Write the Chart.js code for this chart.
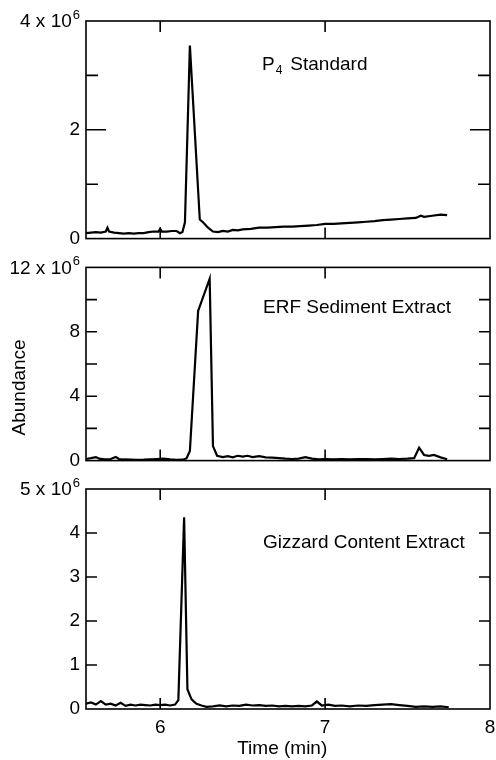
<!DOCTYPE html>
<html>
<head>
<meta charset="utf-8">
<script src="https://cdn.jsdelivr.net/npm/chart.js@4.4.1/dist/chart.umd.min.js"></script>
<style>
  html, body { margin: 0; padding: 0; background: #fff; }
  #wrap { position: relative; width: 496px; height: 760px; }
  .panel { position: absolute; left: 0; width: 496px; }
</style>
</head>
<body>
<div id="wrap">
  <div class="panel" style="top:0px;height:256px"><canvas id="c1" width="496" height="256"></canvas></div>
  <div class="panel" style="top:250px;height:228px"><canvas id="c2" width="496" height="228"></canvas></div>
  <div class="panel" style="top:470px;height:290px"><canvas id="c3" width="496" height="290"></canvas></div>
</div>
<script>
// ---- Data (time in min, abundance in units of 10^6) ----
const xTickValues = [6, 7, 8];
const xAxisTitle = 'Time (min)';
const yAxisTitle = 'Abundance';
const scaleBase = 'x 10';
const scaleExp = '6';

const p4Labels = ['P', '4', 'Standard'];
const p4Time = [5.55,5.58,5.61,5.64,5.67,5.68,5.69,5.72,5.75,5.78,5.81,5.84,5.87,5.90,5.93,5.96,5.99,6.00,6.01,6.04,6.07,6.10,6.12,6.135,6.15,6.18,6.24,6.26,6.29,6.32,6.35,6.38,6.41,6.44,6.47,6.50,6.55,6.60,6.65,6.70,6.75,6.80,6.85,6.90,6.95,7.00,7.05,7.10,7.15,7.20,7.25,7.30,7.35,7.40,7.45,7.50,7.55,7.58,7.60,7.65,7.70,7.74];
const p4Abund = [0.10,0.11,0.12,0.11,0.13,0.20,0.13,0.11,0.10,0.09,0.10,0.09,0.10,0.10,0.12,0.13,0.13,0.18,0.13,0.13,0.14,0.14,0.10,0.12,0.30,3.55,0.35,0.30,0.20,0.13,0.12,0.14,0.13,0.16,0.15,0.17,0.18,0.20,0.20,0.21,0.22,0.22,0.23,0.24,0.25,0.27,0.27,0.28,0.29,0.30,0.31,0.32,0.34,0.35,0.36,0.37,0.38,0.42,0.40,0.42,0.44,0.43];

const erfLabel = 'ERF Sediment Extract';
const erfTime = [5.55,5.58,5.61,5.63,5.66,5.70,5.73,5.75,5.78,5.82,5.86,5.90,5.94,5.98,6.02,6.06,6.10,6.14,6.16,6.18,6.23,6.30,6.32,6.345,6.38,6.41,6.44,6.47,6.50,6.53,6.56,6.60,6.64,6.68,6.72,6.76,6.80,6.84,6.88,6.92,6.96,7.00,7.05,7.10,7.15,7.20,7.25,7.30,7.35,7.40,7.45,7.50,7.54,7.57,7.60,7.63,7.66,7.70,7.74];
const erfAbund = [0.10,0.15,0.22,0.12,0.08,0.10,0.22,0.10,0.07,0.06,0.05,0.06,0.08,0.10,0.12,0.08,0.05,0.06,0.15,0.60,9.30,11.30,0.90,0.30,0.22,0.28,0.20,0.30,0.25,0.30,0.22,0.28,0.20,0.18,0.15,0.12,0.10,0.12,0.22,0.12,0.08,0.10,0.08,0.10,0.07,0.09,0.10,0.08,0.10,0.12,0.10,0.12,0.15,0.80,0.35,0.30,0.35,0.20,0.08];

const gizLabel = 'Gizzard Content Extract';
const gizTime = [5.55,5.58,5.61,5.64,5.67,5.70,5.73,5.76,5.79,5.82,5.85,5.88,5.91,5.94,5.97,6.00,6.03,6.06,6.09,6.11,6.145,6.165,6.19,6.22,6.25,6.28,6.32,6.36,6.40,6.44,6.48,6.52,6.56,6.60,6.64,6.68,6.72,6.76,6.80,6.84,6.88,6.92,6.95,6.98,7.02,7.06,7.10,7.15,7.20,7.25,7.30,7.35,7.40,7.45,7.50,7.55,7.60,7.65,7.70,7.75];
const gizAbund = [0.12,0.15,0.10,0.18,0.10,0.12,0.08,0.14,0.07,0.10,0.08,0.10,0.09,0.08,0.10,0.09,0.10,0.08,0.10,0.20,4.36,0.45,0.22,0.12,0.08,0.05,0.06,0.08,0.06,0.08,0.07,0.10,0.08,0.09,0.07,0.08,0.06,0.07,0.06,0.07,0.06,0.08,0.17,0.08,0.10,0.07,0.08,0.06,0.08,0.07,0.09,0.10,0.11,0.09,0.07,0.05,0.06,0.05,0.06,0.04];

// ---- Styling ----
const FONT = '"Liberation Sans", Arial, Helvetica, sans-serif';
const FS = 19;

const framePlugin = {
  id: 'frame',
  afterDraw(chart, args, opts) {
    const ctx = chart.ctx;
    const a = chart.chartArea;
    const xs = chart.scales.x, ys = chart.scales.y;
    ctx.save();
    ctx.strokeStyle = '#000';
    ctx.lineWidth = 1.6;
    ctx.strokeRect(a.left, a.top, a.right - a.left, a.bottom - a.top);
    ys.ticks.forEach(t => {
      if (t.value <= ys.min || t.value >= ys.max) return;
      const y = ys.getPixelForValue(t.value);
      const major = opts.majorY.includes(t.value);
      const L = major ? opts.majorLen : opts.minorLen;
      ctx.beginPath();
      ctx.moveTo(a.left, y); ctx.lineTo(a.left + L, y);
      ctx.moveTo(a.right, y); ctx.lineTo(a.right - L, y);
      ctx.stroke();
    });
    xs.ticks.forEach(t => {
      if (t.value <= xs.min || t.value >= xs.max) return;
      const x = xs.getPixelForValue(t.value);
      ctx.beginPath();
      ctx.moveTo(x, a.top); ctx.lineTo(x, a.top + 11);
      ctx.moveTo(x, a.bottom); ctx.lineTo(x, a.bottom - 11);
      ctx.stroke();
    });
    ctx.fillStyle = '#000';
    ctx.textBaseline = 'middle';
    // top value label with superscript exponent
    const ty = ys.getPixelForValue(ys.max);
    ctx.font = '13px ' + FONT;
    ctx.textAlign = 'right';
    const ex = a.left - 6;
    ctx.fillText(scaleExp, ex, ty - 6);
    const we = ctx.measureText(scaleExp).width;
    ctx.font = FS + 'px ' + FONT;
    ctx.fillText(ys.max + ' ' + scaleBase, ex - we - 1, ty + 1);
    // panel label
    ctx.textAlign = 'left';
    const lx = a.left + opts.labelDx, ly = a.top + opts.labelDy;
    if (opts.sub) {
      ctx.font = FS + 'px ' + FONT;
      ctx.fillText(opts.text[0], lx, ly);
      const w0 = ctx.measureText(opts.text[0]).width;
      ctx.font = '12px ' + FONT;
      ctx.fillText(opts.text[1], lx + w0 + 1, ly + 6);
      const w1 = ctx.measureText(opts.text[1]).width;
      ctx.font = FS + 'px ' + FONT;
      ctx.fillText(opts.text[2], lx + w0 + w1 + 9, ly);
    } else {
      ctx.font = FS + 'px ' + FONT;
      ctx.fillText(opts.text, lx, ly);
    }
    if (opts.yTitle) {
      ctx.save();
      ctx.translate(20, a.top + opts.yTitleDy);
      ctx.rotate(-Math.PI / 2);
      ctx.textAlign = 'center';
      ctx.font = FS + 'px ' + FONT;
      ctx.fillText(opts.yTitle, 0, 0);
      ctx.restore();
    }
    if (opts.xTitle) {
      ctx.textAlign = 'center';
      ctx.font = FS + 'px ' + FONT;
      ctx.fillText(opts.xTitle, xs.getPixelForValue(opts.xTitlePos), a.bottom + 40);
    }
    ctx.restore();
  }
};

function makeChart(id, time, vals, cfg) {
  const pts = time.map((t, i) => ({ x: t, y: vals[i] }));
  return new Chart(document.getElementById(id), {
    type: 'line',
    data: { datasets: [{ data: pts, borderColor: '#000', borderWidth: 2.2, pointRadius: 0, tension: 0, fill: false }] },
    plugins: [framePlugin],
    options: {
      responsive: false,
      animation: false,
      devicePixelRatio: 1,
      layout: { padding: { left: 0, right: 6, top: cfg.padTop, bottom: 0 } },
      plugins: {
        legend: { display: false },
        tooltip: { enabled: false },
        frame: cfg.frame
      },
      scales: {
        x: {
          type: 'linear', min: 5.55, max: 8,
          grid: { display: false, drawTicks: false },
          border: { display: false },
          afterBuildTicks: s => { s.ticks = xTickValues.map(v => ({ value: v })); },
          afterFit: s => { s.height = cfg.xHeight; s.paddingLeft = 0; s.paddingRight = 0; },
          ticks: { display: cfg.showX, padding: 7, color: '#000', font: { family: FONT, size: FS }, maxRotation: 0, callback: v => String(v) },
          title: { display: false }
        },
        y: {
          type: 'linear', min: 0, max: cfg.ymax,
          grid: { display: false, drawTicks: false },
          border: { display: false },
          afterFit: s => { s.width = 86; },
          ticks: {
            stepSize: cfg.step, padding: 6, color: '#000',
            font: { family: FONT, size: FS },
            callback: v => {
              if (v === cfg.ymax) return '';
              if (!cfg.frame.majorY.includes(v) && v !== 0) return '';
              return String(v);
            }
          }
        }
      }
    }
  });
}

makeChart('c1', p4Time, p4Abund, {
  padTop: 21, xHeight: 16, showX: false, ymax: 4, step: 1,
  frame: { majorY: [2], majorLen: 20, minorLen: 12, text: p4Labels, sub: true, labelDx: 176, labelDy: 44 }
});
makeChart('c2', erfTime, erfAbund, {
  padTop: 15, xHeight: 16, showX: false, ymax: 12, step: 2,
  frame: { majorY: [4, 8], majorLen: 11, minorLen: 11, text: erfLabel, sub: false, labelDx: 177, labelDy: 40, yTitle: yAxisTitle, yTitleDy: 120 }
});
makeChart('c3', gizTime, gizAbund, {
  padTop: 19, xHeight: 51, showX: true, ymax: 5, step: 1,
  frame: { majorY: [1, 2, 3, 4], majorLen: 11, minorLen: 11, text: gizLabel, sub: false, labelDx: 177, labelDy: 54, xTitle: xAxisTitle, xTitlePos: 6.74 }
});
</script>
</body>
</html>
